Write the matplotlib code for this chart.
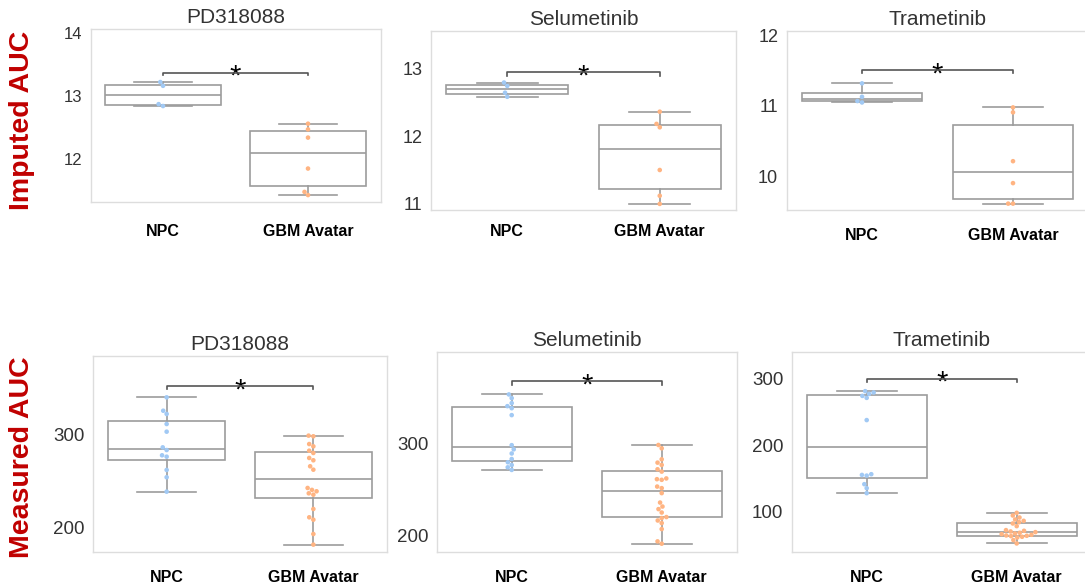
import numpy as np
import matplotlib.pyplot as plt
import seaborn as sns

plt.rcParams['font.family'] = ['Liberation Sans', 'DejaVu Sans']

groups = ['NPC', 'GBM Avatar']

# imputed AUC (top row)
imp_pd_npc = [12.84, 12.87, 13.16, 13.22]
imp_pd_gbm = [11.43, 11.48, 11.85, 12.34, 12.47, 12.56]
imp_sel_npc = [12.58, 12.64, 12.74, 12.79]
imp_sel_gbm = [11.00, 11.12, 11.50, 12.13, 12.18, 12.36]
imp_tra_npc = [11.05, 11.07, 11.13, 11.32]
imp_tra_gbm = [9.62, 9.62, 9.91, 10.22, 10.91, 10.98]

# measured AUC (bottom row)
mea_pd_npc = [238.6, 254.2, 262.1, 276.5, 278.0, 283.7, 286.6, 303.6, 311.9, 322.8, 326.3, 340.8]
mea_pd_gbm = [181.2, 192.7, 208.2, 210.8, 219.8, 235.3, 236.8, 239.0, 240.5, 242.6,
              262.4, 266.1, 272.6, 275.1, 280.5, 283.0, 287.7, 290.2, 298.6, 299.3]
mea_sel_npc = [271.2, 274.0, 276.5, 279.5, 283.0, 289.0, 293.5, 298.0,
               330.5, 338.0, 340.2, 343.5, 348.9, 352.9]
mea_sel_gbm = [191.4, 193.9, 207.2, 213.7, 216.5, 219.1, 220.2, 225.1, 228.8, 231.6, 235.9, 246.1,
               251.5, 253.2, 260.5, 261.2, 262.0, 269.4, 271.9, 276.6, 279.1, 282.7, 294.6, 298.2]
mea_tra_npc = [127.6, 135.1, 141.1, 154.0, 155.0, 156.1, 237.5, 270.9, 273.9, 276.9, 279.0, 281.0]
mea_tra_gbm = [52, 57, 61, 62, 63, 63.5, 64, 65, 66, 67, 68, 69, 70, 71, 72,
               78, 82, 84, 86, 88, 91, 94, 98]

W, H = 1085, 588
fig = plt.figure(figsize=(W / 100, H / 100), dpi=100)

box_col = '#9c9c9c'
pal = ['#a1c9f4', '#ffb482']

# (npc, gbm, title, pixel box l,t,r,b, ylim, yticks, bar y, bar drop, tick font, xlabel pad)
panels = [
    (imp_pd_npc, imp_pd_gbm, 'PD318088', (90.5, 29, 380.5, 202), (11.32, 14.06), [12, 13, 14], 13.37, 0.04, 12, 16),
    (imp_sel_npc, imp_sel_gbm, 'Selumetinib', (431, 31, 736, 210), (10.91, 13.55), [11, 12, 13], 12.94, 0.05, 13, 10),
    (imp_tra_npc, imp_tra_gbm, 'Trametinib', (786.5, 31, 1088.5, 210), (9.53, 12.06), [10, 11, 12], 11.51, 0.05, 13, 13),
    (mea_pd_npc, mea_pd_gbm, 'PD318088', (93.3, 356, 386.7, 552), (173.2, 385.6), [200, 300], 353, 3.5, 13.5, 13),
    (mea_sel_npc, mea_sel_gbm, 'Selumetinib', (436.7, 352, 736.7, 552), (182.4, 398.8), [200, 300], 367, 3.6, 13.5, 13),
    (mea_tra_npc, mea_tra_gbm, 'Trametinib', (791.7, 352, 1091.7, 552), (39.1, 339.9), [100, 200, 300], 300, 5, 13.5, 13),
]

for npc, gbm, title, (l, t, r, b), ylim, yticks, bar, drop, tfs, xpad in panels:
    ax = fig.add_axes([l / W, (H - b) / H, (r - l) / W, (b - t) / H])
    ax.set_ylim(*ylim)
    ax.set_xlim(-0.5, 1.5)

    ax.boxplot([npc, gbm], positions=[0, 1], widths=0.8, patch_artist=True,
               showfliers=False,
               boxprops=dict(facecolor='white', edgecolor=box_col, linewidth=1.2),
               medianprops=dict(color=box_col, linewidth=1.2),
               whiskerprops=dict(color=box_col, linewidth=1.2),
               capprops=dict(color=box_col, linewidth=1.2),
               zorder=1)

    xs = ['NPC'] * len(npc) + ['GBM Avatar'] * len(gbm)
    sns.swarmplot(x=xs, y=npc + gbm, hue=xs, order=groups, hue_order=groups,
                  palette=pal, size=3.3, legend=False, ax=ax, zorder=3)

    ax.set_xlim(-0.5, 1.5)
    ax.set_ylim(*ylim)
    ax.set_xticks([0, 1])
    ax.set_xticklabels(groups, fontsize=11.5, fontweight='bold', color='black')
    ax.set_yticks(yticks)
    ax.set_yticklabels([str(v) for v in yticks], fontsize=tfs, color='#333333')
    ax.tick_params(axis='both', length=0)
    ax.tick_params(axis='x', pad=xpad)
    ax.tick_params(axis='y', pad=6)
    ax.set_xlabel('')
    ax.set_ylabel('')
    ax.set_title(title, fontsize=15, color='#333333', pad=4)
    for s in ax.spines.values():
        s.set_color('#dddddd')
        s.set_linewidth(1.0)

    # significance bracket
    ax.plot([0, 0, 1, 1], [bar - drop, bar, bar, bar - drop], color='#555555', lw=1.2, zorder=4)
    ax.annotate('*', xy=(0.5, bar), xytext=(0, -3), textcoords='offset points',
                ha='center', va='center', fontsize=21, color='black')

fig.text(22 / W, 1 - 120 / H, 'Imputed AUC', rotation=90, ha='center', va='center',
         fontsize=20.5, fontweight='bold', color='#c00000')
fig.text(22 / W, 1 - 457 / H, 'Measured AUC', rotation=90, ha='center', va='center',
         fontsize=20.5, fontweight='bold', color='#c00000')

fig.savefig('out.png', dpi=100)
